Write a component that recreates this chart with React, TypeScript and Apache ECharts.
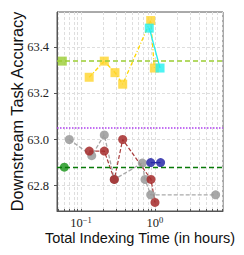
import React, { useEffect, useRef } from "react";
import * as echarts from "echarts";

// Data (x in hours, y accuracy)
const goldX = [0.129, 0.2065, 0.288, 0.366, 0.875, 0.98];
const goldY = [63.27, 63.34, 63.29, 63.24, 63.516, 63.31];
const cyanX = [0.837, 1.17];
const cyanY = [63.483, 63.31];
const grayX = [0.0695, 0.1396, 0.2065, 0.282, 0.674, 0.733, 0.875, 6.6];
const grayY = [63.0, 62.93, 63.02, 62.827, 62.898, 62.827, 62.76, 62.76];
const redX = [0.1294, 0.2065, 0.282, 0.366, 0.883, 1.0];
const redY = [62.95, 62.95, 62.827, 63.0, 62.827, 62.727];
const blueX = [0.875, 1.19];
const blueY = [62.9, 62.9];
const refSquare = [0.0559, 63.34];
const refCircle = [0.0595, 62.88];
const hLines = [63.34, 63.05, 62.88];
const yTicks = [62.8, 63.0, 63.2, 63.4];
const xMajor = [0.1, 1];
const xRange = [0.0474, 8.3];
const yRange = [62.69, 63.553];

const lg = (v: number) => Math.log10(v);
const pts = (xs: number[], ys: number[]) => xs.map((x, i) => [lg(x), ys[i]]);

const minorX: number[] = [];
[0.01, 0.1, 1].forEach((d) => {
  for (let k = 1; k <= 9; k++) {
    const v = k * d;
    if (v >= xRange[0] && v <= xRange[1]) minorX.push(lg(v));
  }
});

export default function App() {
  const ref = useRef<HTMLDivElement>(null);
  useEffect(() => {
    if (!ref.current) return;
    const chart = echarts.init(ref.current, null, { renderer: "svg" });
    const serif = "Liberation Serif";
    const sans = "Liberation Sans";
    chart.setOption({
      animation: false,
      grid: {
        left: 57, top: 12, right: 21, bottom: 44, show: true, borderColor: "#555", borderWidth: 1,
        containLabel: false, outerBoundsMode: "none",
      },
      xAxis: {
        type: "value",
        min: lg(xRange[0]),
        max: lg(xRange[1]),
        name: "Total Indexing Time (in hours)",
        nameLocation: "middle",
        nameGap: 19,
        nameMoveOverlap: false,
        nameTextStyle: { fontFamily: sans, fontSize: 14.5, color: "#111" },
        axisLine: { show: true, onZero: false, lineStyle: { color: "#555", width: 1 } },
        axisTick: { show: true, inside: true, length: 2, customValues: minorX, lineStyle: { color: "#555" } },
        axisLabel: {
          customValues: xMajor.map(lg),
          margin: 4,
          formatter: (v: number) => "{b|10}{s|" + (Math.round(v) === 0 ? "0" : "−1") + "}",
          rich: {
            b: { fontFamily: serif, fontSize: 12.5, color: "#222", lineHeight: 14, verticalAlign: "bottom" },
            s: { fontFamily: serif, fontSize: 8.5, color: "#222", lineHeight: 8, verticalAlign: "top" },
          },
        },
        splitLine: { show: true, lineStyle: { color: "#dedede", type: [3, 2], width: 1 } },
      },
      yAxis: {
        type: "value",
        min: yRange[0],
        max: yRange[1],
        name: "Downstream Task Accuracy",
        nameLocation: "middle",
        nameGap: 32,
        nameMoveOverlap: false,
        nameTextStyle: { fontFamily: sans, fontSize: 16.3, color: "#111" },
        axisLine: { show: true, onZero: false, lineStyle: { color: "#555", width: 1 } },
        axisTick: { show: true, length: 3, customValues: yTicks, lineStyle: { color: "#555" } },
        axisLabel: {
          customValues: yTicks,
          margin: 8,
          fontFamily: serif,
          fontSize: 12.5,
          color: "#222",
          formatter: (v: number) => v.toFixed(1),
        },
        splitLine: { show: true, lineStyle: { color: "#dedede", type: [3, 2], width: 1 } },
      },
      series: [
        {
          type: "line",
          data: [],
          markLine: {
            silent: true,
            symbol: "none",
            label: { show: false },
            data: [
              { yAxis: hLines[0], lineStyle: { color: "#9acd32", type: [5, 3], width: 1.5 } },
              { yAxis: hLines[1], lineStyle: { color: "#b040f0", type: [1.5, 1.5], width: 1.5 } },
              { yAxis: hLines[2], lineStyle: { color: "#087a08", type: [5, 3], width: 1.3 } },
            ],
          },
        },
        {
          type: "scatter",
          data: [[lg(refSquare[0]), refSquare[1]]],
          symbol: "rect",
          symbolSize: 9,
          itemStyle: { color: "#9acd32", opacity: 0.8 },
        },
        {
          type: "scatter",
          data: [[lg(refCircle[0]), refCircle[1]]],
          symbol: "circle",
          symbolSize: 9,
          itemStyle: { color: "#229922", opacity: 0.85 },
        },
        {
          type: "line",
          data: pts(grayX, grayY),
          symbol: "circle",
          symbolSize: 9,
          lineStyle: { color: "#aaaaaa", type: [4, 2], width: 1.3 },
          itemStyle: { color: "#999999", opacity: 0.85 },
        },
        {
          type: "line",
          data: pts(redX, redY),
          symbol: "circle",
          symbolSize: 9,
          lineStyle: { color: "#a83a3a", type: [4, 2], width: 1.2 },
          itemStyle: { color: "#a52a2a", opacity: 0.85 },
        },
        {
          type: "line",
          data: pts(blueX, blueY),
          symbol: "circle",
          symbolSize: 9,
          lineStyle: { color: "#2a2aa8", width: 1.3 },
          itemStyle: { color: "#2828a8", opacity: 0.85 },
        },
        {
          type: "line",
          data: pts(goldX, goldY),
          symbol: "rect",
          symbolSize: 9,
          lineStyle: { color: "#ffd700", type: [4, 2, 1, 2], width: 1.3 },
          itemStyle: { color: "#ffd42a", opacity: 0.8 },
        },
        {
          type: "line",
          data: pts(cyanX, cyanY),
          symbol: "rect",
          symbolSize: 9,
          lineStyle: { color: "#22eeee", width: 1.3 },
          itemStyle: { color: "#22f0f0", opacity: 0.8 },
        },
      ],
    });
    return () => chart.dispose();
  }, []);
  return <div ref={ref} style={{ position: "absolute", left: 0, top: 0, width: 244, height: 255 }} />;
}
